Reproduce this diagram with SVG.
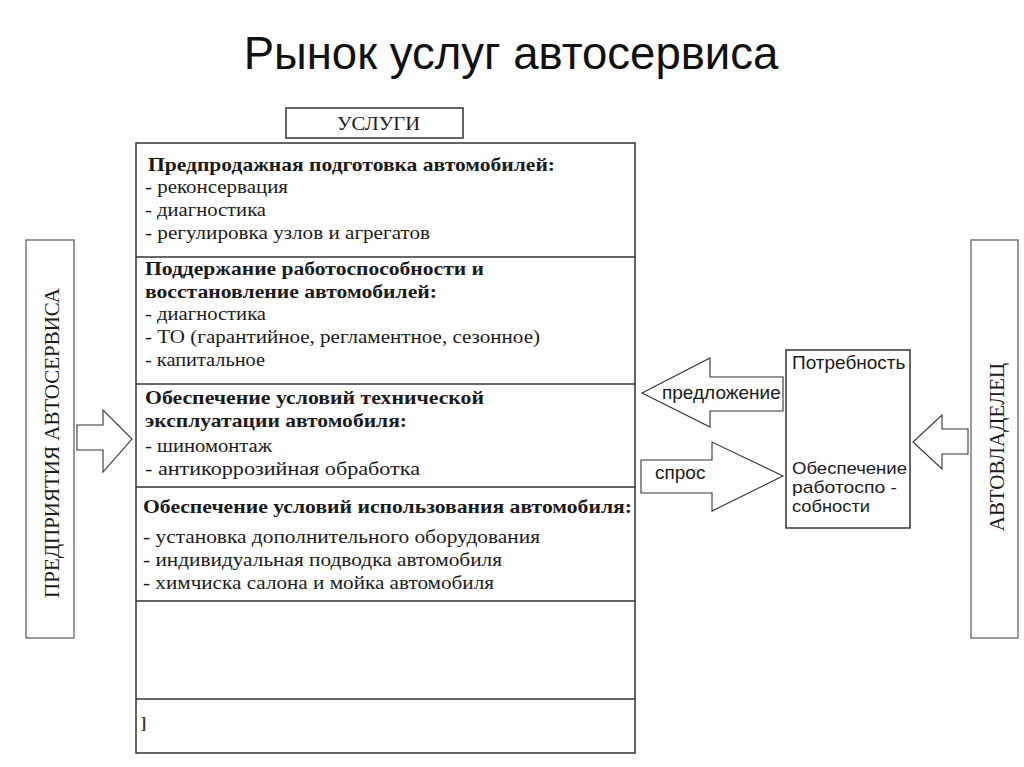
<svg xmlns="http://www.w3.org/2000/svg" width="1024" height="767" viewBox="0 0 1024 767">
<style>
.bg{fill:#ffffff}
.title{font-family:"Liberation Sans",Arial,sans-serif;font-size:45.5px;fill:#111}
.box{fill:#ffffff;stroke:#333;stroke-width:1.5}
.sbox{fill:#ffffff;stroke:#555;stroke-width:1.2}
.div{stroke:#333;stroke-width:1.5}
.t{font-family:"Liberation Serif","Times New Roman",serif;font-size:19.5px;fill:#1a1a1a}
.b{font-family:"Liberation Serif","Times New Roman",serif;font-size:19.5px;font-weight:bold;fill:#1a1a1a}
.v{font-family:"Liberation Serif","Times New Roman",serif;font-size:21px;fill:#1a1a1a}
.s{font-family:"Liberation Sans",Arial,sans-serif;font-size:19px;fill:#1a1a1a}
.s2{font-family:"Liberation Sans",Arial,sans-serif;font-size:17px;fill:#1a1a1a}
.arr{fill:#ffffff;stroke:#333;stroke-width:1.1;stroke-linejoin:miter}
</style>
<rect class="bg" x="0" y="0" width="1024" height="767"/>
<g id="title"><text class="title" x="511" y="69" text-anchor="middle">Рынок услуг автосервиса</text></g>
<g id="uslugi">
<rect class="box" x="286" y="108" width="177" height="30"/>
<text class="t" x="337" y="130" textLength="83" lengthAdjust="spacingAndGlyphs">УСЛУГИ</text>
</g>
<g id="services">
<rect class="box" x="136" y="143" width="499" height="610"/>
<line class="div" x1="136" y1="257" x2="635" y2="257"/>
<line class="div" x1="136" y1="384" x2="635" y2="384"/>
<line class="div" x1="136" y1="487" x2="635" y2="487"/>
<line class="div" x1="136" y1="601" x2="635" y2="601"/>
<line class="div" x1="136" y1="699" x2="635" y2="699"/>
<text class="b" x="148" y="171" textLength="407" lengthAdjust="spacingAndGlyphs">Предпродажная подготовка автомобилей:</text>
<text class="t" x="145" y="193" textLength="143" lengthAdjust="spacingAndGlyphs">- реконсервация</text>
<text class="t" x="145" y="216" textLength="121" lengthAdjust="spacingAndGlyphs">- диагностика</text>
<text class="t" x="145" y="239" textLength="285" lengthAdjust="spacingAndGlyphs">- регулировка узлов и агрегатов</text>
<text class="b" x="145" y="275" textLength="339" lengthAdjust="spacingAndGlyphs">Поддержание работоспособности и</text>
<text class="b" x="145" y="298" textLength="292" lengthAdjust="spacingAndGlyphs">восстановление автомобилей:</text>
<text class="t" x="145" y="320" textLength="121" lengthAdjust="spacingAndGlyphs">- диагностика</text>
<text class="t" x="145" y="343" textLength="395" lengthAdjust="spacingAndGlyphs">- ТО (гарантийное, регламентное, сезонное)</text>
<text class="t" x="145" y="366" textLength="120" lengthAdjust="spacingAndGlyphs">- капитальное</text>
<text class="b" x="145" y="404" textLength="339" lengthAdjust="spacingAndGlyphs">Обеспечение условий технической</text>
<text class="b" x="145" y="427" textLength="262" lengthAdjust="spacingAndGlyphs">эксплуатации автомобиля:</text>
<text class="t" x="145" y="452" textLength="127" lengthAdjust="spacingAndGlyphs">- шиномонтаж</text>
<text class="t" x="145" y="475" textLength="275" lengthAdjust="spacingAndGlyphs">- антикоррозийная обработка</text>
<text class="b" x="143" y="513" textLength="489" lengthAdjust="spacingAndGlyphs">Обеспечение условий использования автомобиля:</text>
<text class="t" x="143" y="543" textLength="397" lengthAdjust="spacingAndGlyphs">- установка дополнительного оборудования</text>
<text class="t" x="143" y="566" textLength="359" lengthAdjust="spacingAndGlyphs">- индивидуальная подводка автомобиля</text>
<text class="t" x="143" y="589" textLength="351" lengthAdjust="spacingAndGlyphs">- химчиска салона и мойка автомобиля</text>
<text class="b" x="141" y="729" style="font-size:16px;fill:#4a3520">]</text>
</g>
<g id="enterprises">
<rect class="sbox" x="26" y="240" width="48" height="398"/>
<text class="v" transform="translate(59,443) rotate(-90)" text-anchor="middle">ПРЕДПРИЯТИЯ АВТОСЕРВИСА</text>
</g>
<g id="owner">
<rect class="sbox" x="971" y="240" width="47" height="398"/>
<text class="v" transform="translate(1004,447) rotate(-90)" text-anchor="middle">АВТОВЛАДЕЛЕЦ</text>
</g>
<g id="need">
<rect class="box" x="786" y="350" width="124" height="178"/>
<text class="s" x="792" y="369">Потребность</text>
<text class="s2" x="792" y="474" textLength="115" lengthAdjust="spacingAndGlyphs">Обеспечение</text>
<text class="s2" x="792" y="493" textLength="105" lengthAdjust="spacingAndGlyphs">работоспо -</text>
<text class="s2" x="792" y="512" textLength="78" lengthAdjust="spacingAndGlyphs">собности</text>
</g>
<g id="connectors">
<polygon class="arr" points="77,425 103,425 103,410 132,439 103,472 103,450 77,450"/>
<polygon class="arr" points="968,429 942,429 942,415 913,442 942,469 942,454 968,454"/>
<polygon class="arr" points="783,377 710,377 710,358 642,393 710,427 710,411 783,411"/>
<polygon class="arr" points="641,460 712,460 712,442 783,476 712,511 712,493 641,493"/>
<text class="s" x="662" y="399">предложение</text>
<text class="s" x="655" y="479">спрос</text>
</g>
</svg>
